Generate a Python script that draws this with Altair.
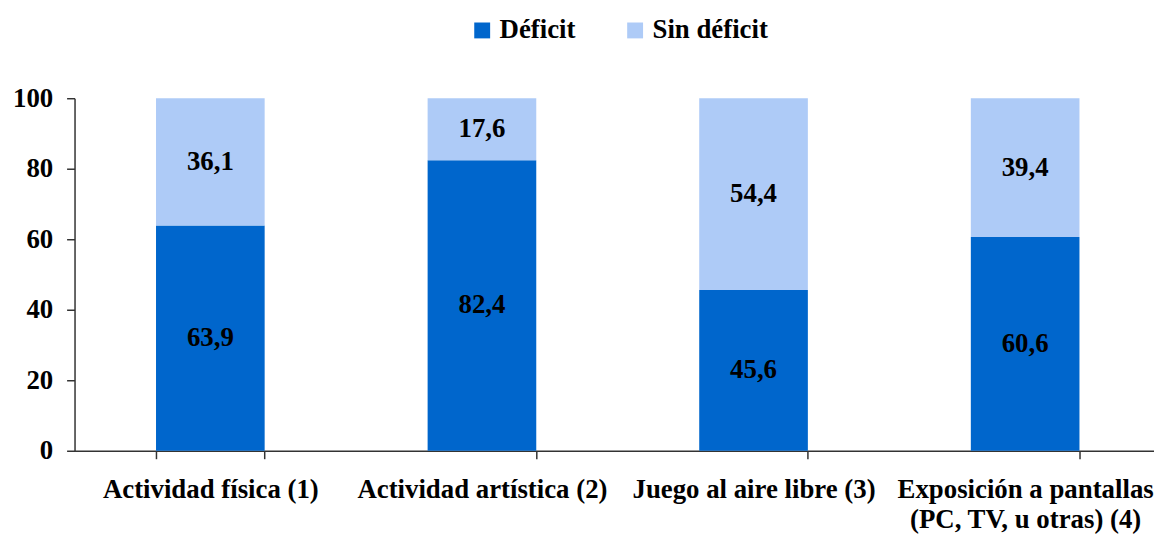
import altair as alt
import pandas as pd

categories = [
    "Actividad física (1)",
    "Actividad artística (2)",
    "Juego al aire libre (3)",
    "Exposición a pantallas|(PC, TV, u otras) (4)",
]
series = ["Déficit", "Sin déficit"]
deficit = [63.9, 82.4, 45.6, 60.6]
sin_deficit = [36.1, 17.6, 54.4, 39.4]
colors = ["#0066CC", "#AECBF7"]
y_ticks = [0, 20, 40, 60, 80, 100]

rows = []
for i, c in enumerate(categories):
    for k, (s, vals) in enumerate(zip(series, [deficit, sin_deficit])):
        v = vals[i]
        rows.append({"cat": c, "serie": s, "value": v, "ord": k,
                     "label": f"{v:.1f}".replace(".", ",")})
df = pd.DataFrame(rows)

FONT = "Liberation Serif"

base = alt.Chart(df).transform_stack(
    stack="value", groupby=["cat"], as_=["y0", "y1"],
    sort=[alt.SortField("ord", order="ascending")],
).transform_calculate(mid="(datum.y0 + datum.y1) / 2")

x_enc = alt.X(
    "cat:N", sort=categories, title=None,
    scale=alt.Scale(paddingInner=0.6, paddingOuter=0.3),
    axis=alt.Axis(
        labelAngle=0, tickBand="extent", tickSize=8, labelPadding=18,
        labelFontSize=27, labelFont=FONT, labelFontWeight="bold",
        labelLineHeight=30, labelExpr="split(datum.label, '|')",
        labelOverlap=False, labelBound=False, labelLimit=600, labelColor="#000000",
        domainColor="#333333", tickColor="#333333", domainWidth=1.5, tickWidth=1.5,
    ),
)

bars = base.mark_bar().encode(
    x=x_enc,
    y=alt.Y(
        "y0:Q", title=None,
        scale=alt.Scale(domain=[0, 100], nice=False),
        axis=alt.Axis(
            values=y_ticks, tickSize=8, labelPadding=14, labelFontSize=27,
            labelFont=FONT, labelFontWeight="bold", labelColor="#000000",
            domainColor="#333333", tickColor="#333333", domainWidth=1.5, tickWidth=1.5,
        ),
    ),
    y2="y1:Q",
    color=alt.Color(
        "serie:N", scale=alt.Scale(domain=series, range=colors), title=None,
        legend=alt.Legend(
            orient="none", legendX=397, legendY=-82, direction="horizontal",
            symbolType="square", symbolSize=256, symbolStrokeWidth=0,
            labelFont=FONT, labelFontSize=27, labelFontWeight="bold",
            labelColor="#000000", labelOffset=4, columnPadding=46, padding=0,
        ),
    ),
)

texts = base.mark_text(
    font=FONT, fontSize=27, fontWeight="bold", color="#000000", baseline="middle"
).encode(
    x=alt.X("cat:N", sort=categories),
    y=alt.Y("mid:Q"),
    text="label:N",
)

chart = alt.layer(bars, texts).properties(
    width=1094, height=355,
    autosize=alt.AutoSizeParams(type="none"),
    padding={"left": 67, "top": 89, "right": -7, "bottom": 86},
).configure_view(stroke=None).configure_axis(grid=False)

chart.save("out.html", embed_options={"renderer": "svg", "actions": False})
